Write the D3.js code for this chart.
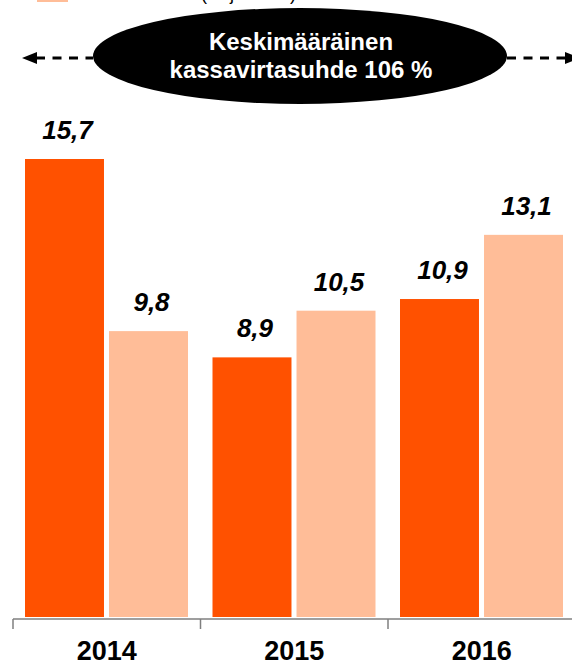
<!DOCTYPE html>
<html>
<head>
<meta charset="utf-8">
<script src="https://cdn.jsdelivr.net/npm/d3@7"></script>
<style>
  html, body { margin: 0; padding: 0; background: #fff; }
  svg { display: block; font-family: "Liberation Sans", Arial, sans-serif; }
</style>
</head>
<body>
<svg id="chart" width="572" height="665"></svg>
<script>
// ---- Data ----
const years = ["2014", "2015", "2016"];
const seriesNames = ["Liiketoiminnan kassavirta (milj. euroa)", "Investoinnit (milj. euroa)"];
const cashFlow = [15.7, 8.9, 10.9];
const investments = [9.8, 10.5, 13.1];
const seriesColors = ["#ff5100", "#ffbd98"];
const ellipseLines = ["Keskimääräinen", "kassavirtasuhde 106 %"];
const fmt = v => String(v.toFixed(1)).replace(".", ",");

const rows = years.map((y, i) => ({ year: y, values: [cashFlow[i], investments[i]] }));

const svg = d3.select("#chart");

// ---- Scales ----
const x0 = d3.scaleBand().domain(years).range([13, 575.5]).paddingInner(0).paddingOuter(0);
const x1 = d3.scaleBand().domain([0, 1]).range([12, 175]).paddingInner(0.06).paddingOuter(0);
const y = d3.scaleLinear().domain([0, 15.7]).range([617, 159]);

// ---- Legend (mostly cut off at top, as in the source) ----
const legend = svg.append("g");
seriesNames.forEach((name, i) => {
  const ly = i === 0 ? -30 : 0;
  legend.append("rect").attr("x", 37).attr("y", ly - 14).attr("width", 31).attr("height", 16)
    .attr("fill", seriesColors[i]);
  legend.append("text").attr("x", 296).attr("y", ly).attr("text-anchor", "end")
    .attr("font-size", 18).attr("fill", "#000").text(name);
});

// ---- Bars ----
const groups = svg.append("g").selectAll("g").data(rows).join("g")
  .attr("transform", d => `translate(${x0(d.year)},0)`);

groups.selectAll("rect").data(d => d.values.map((v, i) => ({ v, i }))).join("rect")
  .attr("x", d => x1(d.i))
  .attr("width", x1.bandwidth())
  .attr("y", d => y(d.v))
  .attr("height", d => y(0) - y(d.v))
  .attr("fill", d => seriesColors[d.i]);

groups.selectAll("text.val").data(d => d.values.map((v, i) => ({ v, i }))).join("text")
  .attr("class", "val")
  .attr("x", d => x1(d.i) + x1.bandwidth() / 2 + 3)
  .attr("y", d => y(d.v) - 20)
  .attr("text-anchor", "middle")
  .attr("font-size", 26)
  .attr("font-weight", "bold")
  .attr("font-style", "italic")
  .attr("fill", "#000")
  .text(d => fmt(d.v));

// ---- Axis ----
const axisY = 619;
const axis = d3.axisBottom(x0).tickSize(0).tickPadding(0);
const axG = svg.append("g").attr("transform", `translate(0,${axisY})`).call(axis);
axG.select(".domain").remove();
axG.selectAll("text")
  .attr("y", 41)
  .attr("dy", 0)
  .attr("font-size", 27)
  .attr("font-weight", "bold")
  .attr("font-family", "Liberation Sans, Arial, sans-serif")
  .attr("fill", "#000");

svg.append("line").attr("x1", 13).attr("x2", 572).attr("y1", axisY).attr("y2", axisY)
  .attr("stroke", "#7f7f7f").attr("stroke-width", 1.5);
svg.append("g").selectAll("line").data(years).join("line")
  .attr("x1", d => x0(d)).attr("x2", d => x0(d))
  .attr("y1", axisY).attr("y2", axisY + 10)
  .attr("stroke", "#7f7f7f").attr("stroke-width", 1.5);

// ---- Ellipse annotation ----
const ex = 300, ey = 56, erx = 207, ery = 48, ay = 58;
svg.append("line").attr("x1", 36).attr("x2", ex - erx).attr("y1", ay).attr("y2", ay)
  .attr("stroke", "#000").attr("stroke-width", 3).attr("stroke-dasharray", "9,7.5");
svg.append("path").attr("d", `M22,${ay} L37,${ay - 6} L37,${ay + 6} Z`).attr("fill", "#000");
svg.append("line").attr("x1", ex + erx).attr("x2", 566).attr("y1", ay).attr("y2", ay)
  .attr("stroke", "#000").attr("stroke-width", 3).attr("stroke-dasharray", "9,7.5");
svg.append("path").attr("d", `M580,${ay} L565,${ay - 6} L565,${ay + 6} Z`).attr("fill", "#000");

svg.append("ellipse").attr("cx", ex).attr("cy", ey).attr("rx", erx).attr("ry", ery).attr("fill", "#000");
svg.append("g").selectAll("text").data(ellipseLines).join("text")
  .attr("x", ex + 1)
  .attr("y", (d, i) => 50 + i * 28)
  .attr("text-anchor", "middle")
  .attr("font-size", 24)
  .attr("font-weight", "bold")
  .attr("fill", "#fff")
  .text(d => d);
</script>
</body>
</html>
